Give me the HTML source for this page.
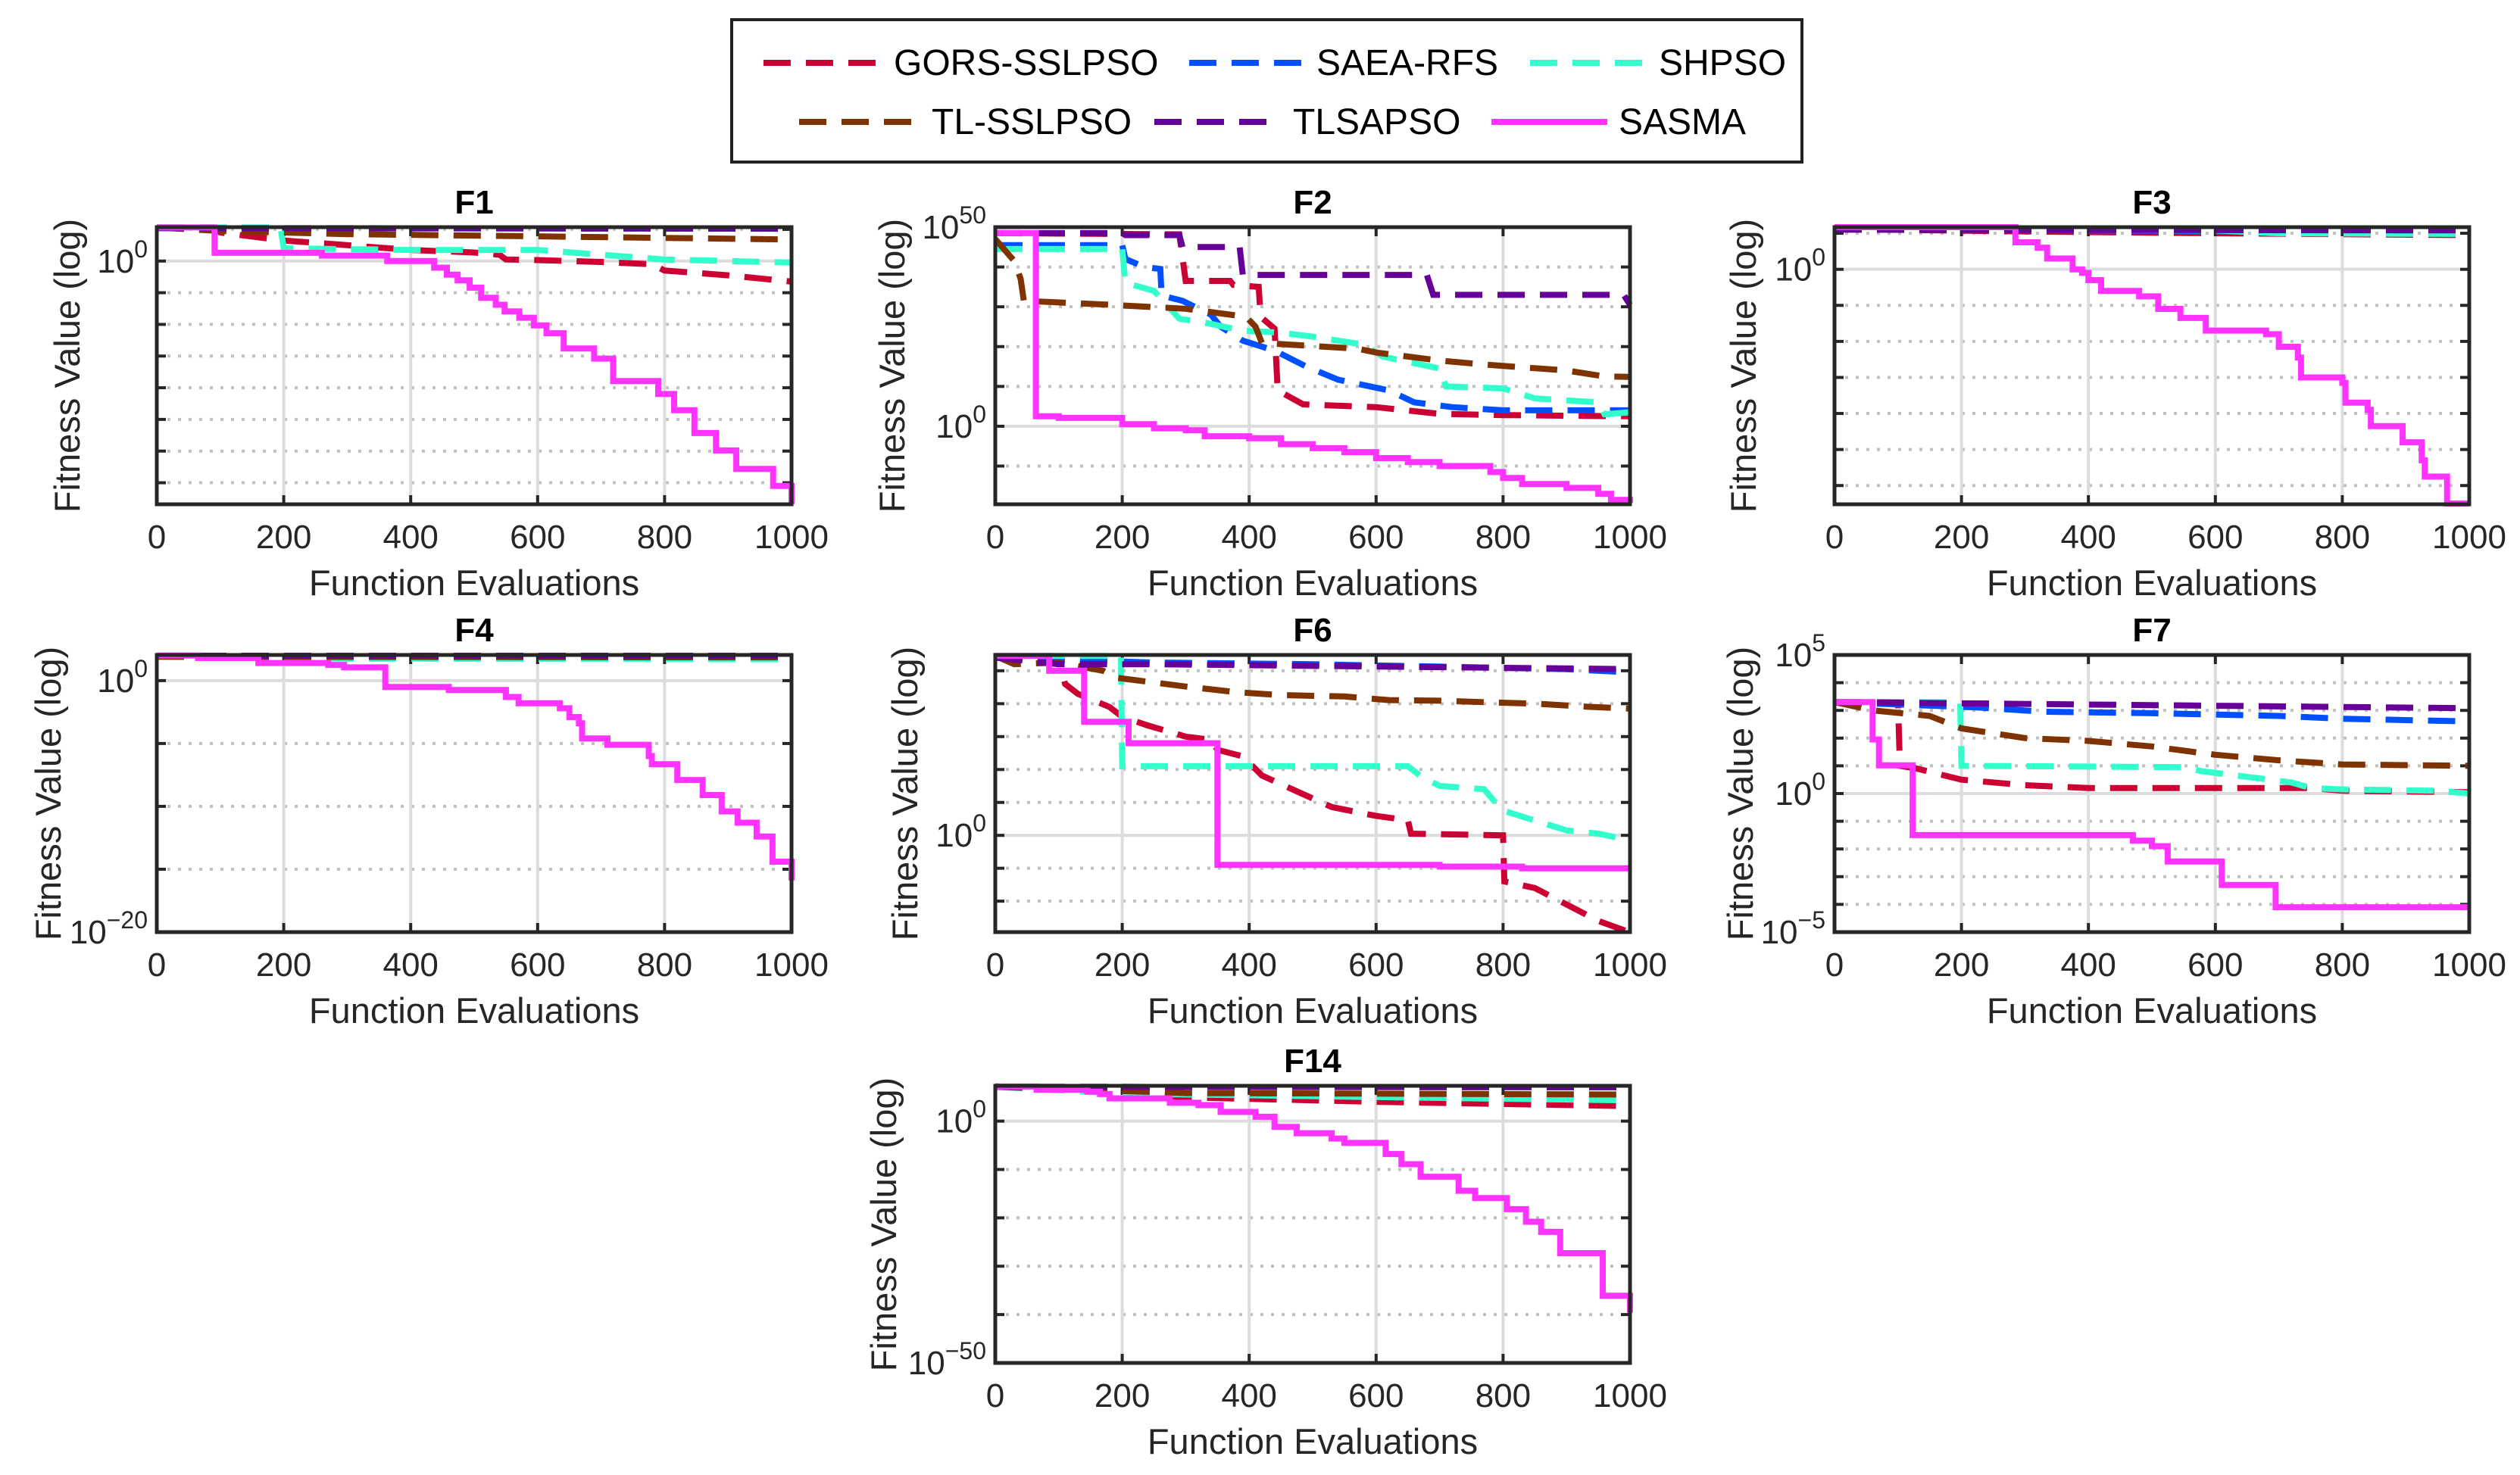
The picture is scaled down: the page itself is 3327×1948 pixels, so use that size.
<!DOCTYPE html>
<html><head><meta charset="utf-8"><style>
html,body{margin:0;padding:0;background:#fff;}
svg{display:block;font-family:"Liberation Sans",Arial,sans-serif;}
</style></head><body>
<svg id="fig" xmlns="http://www.w3.org/2000/svg" width="3327" height="1948" viewBox="0 0 3327 1948">
<g id="legend">
<rect x="966" y="26" width="1413" height="188" fill="#fff" stroke="#222" stroke-width="4"/>
<g><line x1="1008" y1="83" x2="1167" y2="83" stroke="#CC0033" stroke-width="8" stroke-dasharray="36 20"/><text x="1180" y="99" font-size="48">GORS-SSLPSO</text></g>
<g><line x1="1570" y1="83" x2="1722" y2="83" stroke="#0050FF" stroke-width="8" stroke-dasharray="36 20"/><text x="1738" y="99" font-size="48">SAEA-RFS</text></g>
<g><line x1="2020" y1="83" x2="2175" y2="83" stroke="#33FFCC" stroke-width="8" stroke-dasharray="36 20"/><text x="2190" y="99" font-size="48">SHPSO</text></g>
<g><line x1="1055" y1="161" x2="1212" y2="161" stroke="#7F3300" stroke-width="8" stroke-dasharray="36 20"/><text x="1230" y="177" font-size="48">TL-SSLPSO</text></g>
<g><line x1="1524" y1="161" x2="1688" y2="161" stroke="#660099" stroke-width="8" stroke-dasharray="36 20"/><text x="1707" y="177" font-size="48">TLSAPSO</text></g>
<g><line x1="1969" y1="161" x2="2122" y2="161" stroke="#FF33FF" stroke-width="8"/><text x="2137" y="177" font-size="48">SASMA</text></g>
</g>
</svg>
<script>
// ---- data: x = function evaluations, y = log10(fitness) ----
const xTicks = [0,200,400,600,800,1000];
// F1
const f1_gors_x=[0,90,100,200,300,400,500,540,550,600,700,780,800,900,1000];
const f1_gors_y=[1.06,1.06,0.9,0.65,0.5,0.35,0.27,0.2,0.05,0.03,-0.03,-0.1,-0.3,-0.45,-0.65];
const f1_saea_x=[0,1000]; const f1_saea_y=[1.04,1.02];
const f1_shpso_x=[0,195,200,400,600,700,800,1000]; const f1_shpso_y=[1.06,1.06,0.4,0.35,0.35,0.2,0.05,-0.05];
const f1_tl_x=[0,100,300,600,1000]; const f1_tl_y=[1.06,0.95,0.85,0.78,0.68];
const f1_tlsa_x=[0,1000]; const f1_tlsa_y=[1.04,1.03];
const f1_sasma_x=[0,91,260,363,437,457,474,493,511,534,548,571,594,614,641,689,719,790,815,847,881,913,971,1000];
const f1_sasma_y=[1.06,0.26,0.17,0,-0.21,-0.43,-0.61,-0.84,-1.16,-1.38,-1.59,-1.79,-2.03,-2.28,-2.76,-3.08,-3.79,-4.2,-4.71,-5.43,-5.98,-6.56,-7.1,-7.68];
// F2
const f2_gors_x=[0,290,300,370,375,415,418,440,445,485,600,700,800,1000];
const f2_gors_y=[48.5,48.2,36.5,36.5,35.5,35,27.5,24.5,9,5.5,4.8,3.1,2.8,2.5];
const f2_saea_x=[0,200,205,235,260,262,295,340,355,390,440,490,540,620,660,720,800,1000];
const f2_saea_y=[45.5,45.5,42,40,39.5,32.8,31.5,28,25,21.5,19,15,11.7,9,6,4.8,4,4];
const f2_shpso_x=[0,200,205,250,290,330,390,450,500,580,610,700,710,800,850,950,960,1000];
const f2_shpso_y=[44.5,44.5,36,34,27,26,24,23.5,22.5,20.5,17.5,14.5,10,9.5,7,6,3,3.5];
const f2_tl_x=[0,30,40,45,180,300,395,410,420,570,600,700,770,900,960,1000];
const f2_tl_y=[47,41.5,37,31.5,30.5,29.5,27.5,25,20.9,19.5,18.5,16.5,15.5,14,12.5,12.4];
const f2_tlsa_x=[0,200,205,290,295,385,390,680,690,990,1000];
const f2_tlsa_y=[48.5,48.5,48,48,45,45,38,38,33,33,30.5];
const f2_sasma_x=[0,64,100,200,250,300,330,400,450,500,550,600,650,700,780,800,830,900,950,970,1000];
const f2_sasma_y=[48.5,2.5,2.1,0.5,-0.5,-1,-2.5,-3,-4.5,-5.5,-6.5,-8,-9,-10,-11.5,-13,-14.5,-15.5,-17,-18.5,-19.3];
// F3
const f3_gors_x=[0,300,600,1000]; const f3_gors_y=[1.12,1.05,1.0,0.95];
const f3_saea_x=[0,700,1000]; const f3_saea_y=[1.12,1.05,1.0];
const f3_shpso_x=[0,600,700,1000]; const f3_shpso_y=[1.12,1.08,1.0,0.98];
const f3_tl_x=[0,1000]; const f3_tl_y=[1.12,1.1];
const f3_tlsa_x=[0,1000]; const f3_tlsa_y=[1.1,1.08];
const f3_sasma_x=[0,285,320,335,375,390,400,420,480,510,545,585,680,700,730,735,800,805,840,845,895,925,930,965];
const f3_sasma_y=[1.17,0.75,0.6,0.3,0,-0.1,-0.3,-0.6,-0.75,-1.1,-1.35,-1.7,-1.8,-2.15,-2.45,-3.0,-3.15,-3.7,-3.9,-4.35,-4.8,-5.3,-5.75,-6.5];
// F4
const f4_gors_x=[0,1000]; const f4_gors_y=[1.9,1.85];
const f4_saea_x=[0,1000]; const f4_saea_y=[1.95,1.9];
const f4_shpso_x=[0,280,1000]; const f4_shpso_y=[1.95,1.75,1.7];
const f4_tl_x=[0,1000]; const f4_tl_y=[1.9,1.85];
const f4_tlsa_x=[0,1000]; const f4_tlsa_y=[1.98,1.98];
const f4_sasma_x=[0,65,160,270,295,360,460,550,570,635,650,665,670,710,775,780,820,860,890,915,945,970,1000];
const f4_sasma_y=[2.0,1.8,1.4,1.25,1.05,-0.5,-0.75,-1.3,-1.8,-2.2,-2.9,-3.4,-4.6,-5.1,-6.0,-6.65,-7.9,-9.1,-10.4,-11.3,-12.4,-14.4,-15.9];
// F6
const f6_gors_x=[0,80,100,110,130,180,200,240,300,340,350,390,420,470,530,600,650,655,800,802,850,880,920,950,1000];
const f6_gors_y=[5.45,5.35,5.3,4.6,4.3,3.9,3.6,3.34,3.0,2.9,2.6,2.4,1.82,1.38,0.86,0.59,0.46,0.05,0,-1.4,-1.6,-1.9,-2.3,-2.6,-2.95];
const f6_saea_x=[0,250,500,900,1000]; const f6_saea_y=[5.4,5.25,5.2,5.05,4.95];
const f6_shpso_x=[0,198,200,650,670,700,770,790,800,850,900,950,1000];
const f6_shpso_y=[5.45,5.45,2.1,2.1,1.8,1.5,1.4,0.95,0.75,0.45,0.15,0.05,-0.15];
const f6_tl_x=[0,30,100,170,190,300,380,450,550,620,700,780,850,930,1000];
const f6_tl_y=[5.45,5.2,5.25,5.0,4.79,4.52,4.35,4.26,4.22,4.11,4.09,4.04,4.0,3.91,3.85];
const f6_tlsa_x=[0,100,250,1000]; const f6_tlsa_y=[5.4,5.2,5.2,5.05];
const f6_sasma_x=[0,85,140,210,350,700,830]; const f6_sasma_y=[5.45,5.0,3.45,2.8,-0.9,-0.95,-1.0];
// F7
const f7_gors_x=[0,100,103,130,200,300,400,750,800,1000]; const f7_gors_y=[3.3,3.3,1.0,0.9,0.5,0.3,0.2,0.2,0.1,0.05];
const f7_saea_x=[0,230,330,500,700,800,1000]; const f7_saea_y=[3.3,3.1,2.95,2.9,2.8,2.7,2.6];
const f7_shpso_x=[0,198,200,550,580,650,720,750,800,950,1000]; const f7_shpso_y=[3.3,3.3,1.0,0.95,0.8,0.6,0.4,0.2,0.15,0.1,0.0];
const f7_tl_x=[0,60,150,200,300,400,500,600,700,800,1000]; const f7_tl_y=[3.3,3.0,2.8,2.35,2.0,1.9,1.7,1.4,1.2,1.05,1.0];
const f7_tlsa_x=[0,1000]; const f7_tlsa_y=[3.3,3.08];
const f7_sasma_x=[0,60,70,123,470,500,525,610,695]; const f7_sasma_y=[3.3,1.95,1.02,-1.5,-1.7,-1.9,-2.45,-3.3,-4.1];
// F14
const f14_gors_x=[0,100,300,600,1000]; const f14_gors_y=[7.2,6.5,4.9,4.0,3.1];
const f14_saea_x=[0,1000]; const f14_saea_y=[7.1,7.0];
const f14_shpso_x=[0,200,700,1000]; const f14_shpso_y=[7.1,5.7,4.8,4.3];
const f14_tl_x=[0,300,1000]; const f14_tl_y=[7.1,5.8,5.5];
const f14_tlsa_x=[0,1000]; const f14_tlsa_y=[7.1,7.0];
const f14_sasma_x=[0,65,145,165,180,275,320,355,410,440,475,530,550,615,640,670,730,756,806,836,860,890,957,1000];
const f14_sasma_y=[7.15,6.5,6.1,5.6,4.7,3.8,3.3,1.9,0.9,-1.2,-2.5,-3.6,-4.5,-6.8,-8.9,-11.5,-14.4,-15.9,-18.2,-20.8,-22.9,-27.3,-36.1,-39.6];
// tick label exponents per panel
const f1_ticks=[0], f2_ticks=[50,0], f3_ticks=[0], f4_ticks=[0,-20], f6_ticks=[0], f7_ticks=[5,0,-5], f14_ticks=[0,-50];

const NS="http://www.w3.org/2000/svg";
const svg=document.getElementById('fig');
function mk(tag,attrs,parent){const e=document.createElementNS(NS,tag);for(const k in attrs)e.setAttribute(k,attrs[k]);(parent||svg).appendChild(e);return e;}
const colors={gors:'#CC0033',saea:'#0050FF',shpso:'#33FFCC',tl:'#7F3300',tlsa:'#660099',sasma:'#FF33FF'};

const panels=[
 {id:'f1',title:'F1',L:207,T:300,yl:102,ymin:-7.68,ymax:1.07,gstep:1,ticks:f1_ticks,
  s:{gors:[f1_gors_x,f1_gors_y],saea:[f1_saea_x,f1_saea_y],shpso:[f1_shpso_x,f1_shpso_y],tl:[f1_tl_x,f1_tl_y],tlsa:[f1_tlsa_x,f1_tlsa_y],sasma:[f1_sasma_x,f1_sasma_y]}},
 {id:'f2',title:'F2',L:1314,T:300,yl:120,ymin:-19.6,ymax:50,gstep:10,ticks:f2_ticks,
  s:{gors:[f2_gors_x,f2_gors_y],saea:[f2_saea_x,f2_saea_y],shpso:[f2_shpso_x,f2_shpso_y],tl:[f2_tl_x,f2_tl_y],tlsa:[f2_tlsa_x,f2_tlsa_y],sasma:[f2_sasma_x,f2_sasma_y]}},
 {id:'f3',title:'F3',L:2422,T:300,yl:104,ymin:-6.52,ymax:1.17,gstep:1,ticks:f3_ticks,
  s:{gors:[f3_gors_x,f3_gors_y],saea:[f3_saea_x,f3_saea_y],shpso:[f3_shpso_x,f3_shpso_y],tl:[f3_tl_x,f3_tl_y],tlsa:[f3_tlsa_x,f3_tlsa_y],sasma:[f3_sasma_x,f3_sasma_y]}},
 {id:'f4',title:'F4',L:207,T:865,yl:127,ymin:-20,ymax:2.04,gstep:5,ticks:f4_ticks,
  s:{gors:[f4_gors_x,f4_gors_y],saea:[f4_saea_x,f4_saea_y],shpso:[f4_shpso_x,f4_shpso_y],tl:[f4_tl_x,f4_tl_y],tlsa:[f4_tlsa_x,f4_tlsa_y],sasma:[f4_sasma_x,f4_sasma_y]}},
 {id:'f6',title:'F6',L:1314,T:865,yl:103,ymin:-2.94,ymax:5.48,gstep:1,ticks:f6_ticks,
  s:{gors:[f6_gors_x,f6_gors_y],saea:[f6_saea_x,f6_saea_y],shpso:[f6_shpso_x,f6_shpso_y],tl:[f6_tl_x,f6_tl_y],tlsa:[f6_tlsa_x,f6_tlsa_y],sasma:[f6_sasma_x,f6_sasma_y]}},
 {id:'f7',title:'F7',L:2422,T:865,yl:108,ymin:-5,ymax:5,gstep:1,ticks:f7_ticks,
  s:{gors:[f7_gors_x,f7_gors_y],saea:[f7_saea_x,f7_saea_y],shpso:[f7_shpso_x,f7_shpso_y],tl:[f7_tl_x,f7_tl_y],tlsa:[f7_tlsa_x,f7_tlsa_y],sasma:[f7_sasma_x,f7_sasma_y]}},
 {id:'f14',title:'F14',L:1314,T:1434,yl:131,ymin:-50,ymax:7.3,gstep:10,ticks:f14_ticks,
  s:{gors:[f14_gors_x,f14_gors_y],saea:[f14_saea_x,f14_saea_y],shpso:[f14_shpso_x,f14_shpso_y],tl:[f14_tl_x,f14_tl_y],tlsa:[f14_tlsa_x,f14_tlsa_y],sasma:[f14_sasma_x,f14_sasma_y]}}
];
const W=838,H=366;

panels.forEach(p=>{
  const g=mk('g',{});
  
  
  const xs=v=>p.L+v/1000*W;
  const ys=v=>p.T+(p.ymax-v)/(p.ymax-p.ymin)*H;
  const clipId='clip-'+p.id;
  const cp=mk('clipPath',{id:clipId},g);
  mk('rect',{x:p.L,y:p.T-6,width:W+6,height:H+12},cp);
  const gStart=Math.ceil(p.ymin/p.gstep)*p.gstep;
  for(let v=gStart;v<=p.ymax+1e-9;v+=p.gstep){
    const y=ys(v);
    if(Math.abs(y-p.T)<2||Math.abs(y-(p.T+H))<2) continue;
    const major=p.ticks.indexOf(v)>=0;
    const ln=mk('line',{x1:p.L,x2:p.L+W,y1:y,y2:y,stroke:major?'#dcdcdc':'#c0c0c0','stroke-width':4,'stroke-dasharray':major?'none':'4 10'},g);
    
    
    const tk=mk('line',{x1:p.L,x2:p.L+12,y1:y,y2:y,stroke:'#262626','stroke-width':4},g);
    
    
    const tk2=mk('line',{x1:p.L+W-12,x2:p.L+W,y1:y,y2:y,stroke:'#262626','stroke-width':4},g);
    
    
  }
  xTicks.forEach(t=>{
    const x=xs(t);
    if(t>0&&t<1000){
      const vl=mk('line',{x1:x,x2:x,y1:p.T,y2:p.T+H,stroke:'#dcdcdc','stroke-width':4},g);
      
      
      const a=mk('line',{x1:x,x2:x,y1:p.T+H-12,y2:p.T+H,stroke:'#262626','stroke-width':4},g);
      
      
      const b=mk('line',{x1:x,x2:x,y1:p.T,y2:p.T+12,stroke:'#262626','stroke-width':4},g);
      
      
    }
    const tl=mk('text',{x:x,y:p.T+H+58,'font-size':44,'text-anchor':'middle',fill:'#262626'},g);
    
    
    tl.textContent=String(t);
  });
  p.ticks.forEach(v=>{
    const y=ys(v);
    const t=mk('text',{x:p.L-12,y:y+15,'font-size':44,'text-anchor':'end',fill:'#262626'},g);
    
    
    const a=mk('tspan',{},t); a.textContent='10';
    const b=mk('tspan',{dy:-20,'font-size':32},t); b.textContent=(v<0?'\u2212'+(-v):String(v));
  });
  const order=['gors','saea','shpso','tl','tlsa','sasma'];
  order.forEach(k=>{
    const [X,Y]=p.s[k];
    let d='';
    if(k==='sasma'){
      for(let i=0;i<X.length;i++){
        d+=(i?'L':'M')+xs(X[i]).toFixed(1)+' '+ys(Y[i]).toFixed(1);
        const nx=i<X.length-1?X[i+1]:1000;
        d+='L'+xs(nx).toFixed(1)+' '+ys(Y[i]).toFixed(1);
      }
    } else {
      for(let i=0;i<X.length;i++) d+=(i?'L':'M')+xs(X[i]).toFixed(1)+' '+ys(Y[i]).toFixed(1);
    }
    const path=mk('path',{d:d,fill:'none',stroke:colors[k],'stroke-width':8,'stroke-dasharray':k==='sasma'?'none':'36 20','clip-path':'url(#'+clipId+')'},g);
    
    
  });
  const box=mk('rect',{x:p.L,y:p.T,width:W,height:H,fill:'none',stroke:'#262626','stroke-width':5},g);
  
  
  const tt=mk('text',{x:p.L+W/2,y:p.T-18,'font-size':44,'font-weight':'bold','text-anchor':'middle',fill:'#000'},g);
  
  
  tt.textContent=p.title;
  const xl=mk('text',{x:p.L+W/2,y:p.T+H+120,'font-size':47,'text-anchor':'middle',fill:'#262626'},g);
  
  
  xl.textContent='Function Evaluations';
  const cx=p.L-p.yl, cy=p.T+H/2;
  const yl=mk('text',{x:cx,y:cy,'font-size':47,'text-anchor':'middle',fill:'#262626',transform:'rotate(-90 '+cx+' '+cy+')'},g);
  
  
  yl.textContent='Fitness Value (log)';
});
</script>
</body></html>
